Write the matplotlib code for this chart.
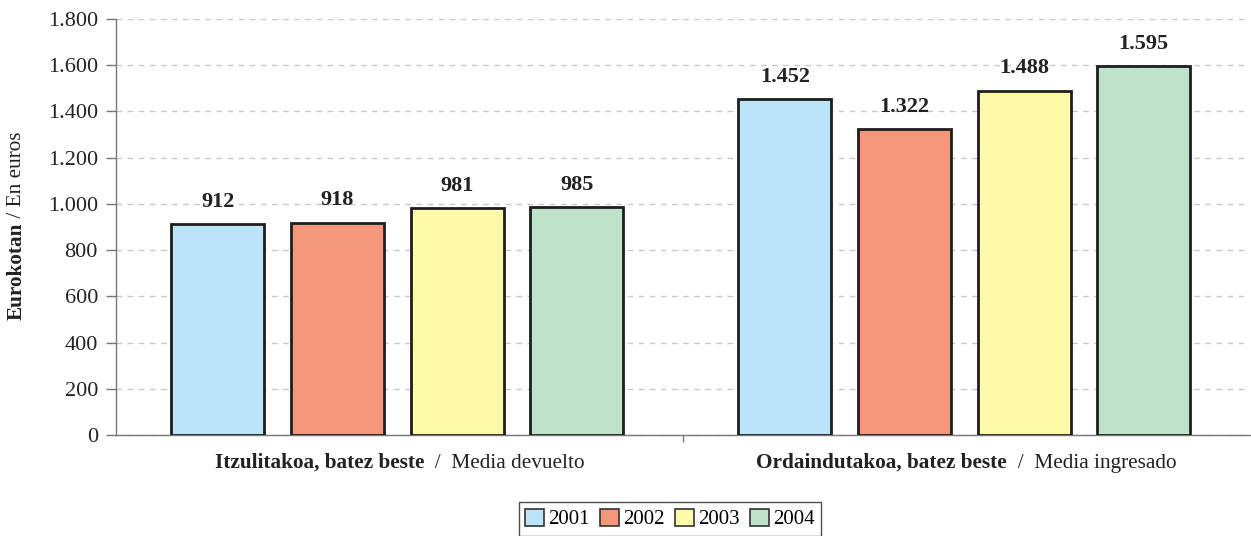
import matplotlib
matplotlib.use("Agg")
import matplotlib.pyplot as plt
from matplotlib.offsetbox import TextArea, HPacker, AnnotationBbox
from matplotlib.ticker import FuncFormatter
import numpy as np

plt.rcParams['font.family'] = ['Liberation Serif', 'DejaVu Serif']

years = ['2001', '2002', '2003', '2004']
cat_bold = ['Itzulitakoa, batez beste', 'Ordaindutakoa, batez beste']
cat_regular = ['Media devuelto', 'Media ingresado']
values = {
    '2001': [912, 1452],
    '2002': [918, 1322],
    '2003': [981, 1488],
    '2004': [985, 1595],
}
colors = ['#BAE4F8', '#F5977A', '#FFF9AA', '#BFE2CA']

fig = plt.figure(figsize=(12.51, 5.36), dpi=100)
ax = fig.add_axes([116/1251, 1-435/536, 1134/1251, 416/536])

pitch = 0.211
width = 0.164
offsets = np.array([-1.5, -0.5, 0.5, 1.5]) * pitch - 0.004
centers = np.arange(len(cat_bold)) + 0.5

def fmt(v):
    return f"{int(v):,}".replace(',', '.')

for k, y in enumerate(years):
    xs = centers + offsets[k]
    ax.bar(xs, values[y], width=width, color=colors[k], edgecolor='#1E1E1E',
           linewidth=2.0, zorder=3, label=y)
    for x, v in zip(xs, values[y]):
        ax.text(x, v + 55, fmt(v), ha='center', va='bottom', fontsize=16,
                fontweight='bold', color='#222222', zorder=4)

ax.set_xlim(0, 2)
ax.set_ylim(0, 1800)
ax.set_yticks(np.arange(0, 1801, 200))
ax.yaxis.set_major_formatter(FuncFormatter(lambda v, p: fmt(v)))
ax.tick_params(axis='y', labelsize=16, length=7, width=1, color='#777777',
               labelcolor='#222222', pad=6)
ax.set_xticks([1])
ax.set_xticklabels([''])
ax.tick_params(axis='x', length=5, width=1, color='#777777')
ax.grid(axis='y', color='#C8C8C8', linestyle=(0, (4, 4)), linewidth=1, zorder=0)
for s in ['top', 'right']:
    ax.spines[s].set_visible(False)
for s in ['left', 'bottom']:
    ax.spines[s].set_color('#777777')
    ax.spines[s].set_linewidth(1)

# category labels
for i in range(len(cat_bold)):
    t1 = TextArea(cat_bold[i], textprops=dict(fontsize=15.3, fontweight='bold', color='#222222'))
    t2 = TextArea('  /  ' + cat_regular[i], textprops=dict(fontsize=15.3, color='#222222'))
    box = HPacker(children=[t1, t2], align='baseline', pad=0, sep=0)
    ab = AnnotationBbox(box, (centers[i], 1 - (463 - 19) / 416), xycoords=ax.get_xaxis_transform(),
                        box_alignment=(0.5, 0.5), frameon=False, annotation_clip=False)
    ax.add_artist(ab)

# y label
fig.canvas.draw()
t_a = fig.text(17/1251, 1 - 320/536, 'Eurokotan', rotation=90, fontsize=15.3, fontweight='bold',
               ha='center', va='bottom', color='#222222')
fig.canvas.draw()
ax.annotate(' / En euros', xy=(0.5, 1), xycoords=t_a, rotation=90, fontsize=15.3,
            ha='center', va='bottom', color='#222222', annotation_clip=False)

leg = fig.legend(loc='center', bbox_to_anchor=(670/1251, 1 - 519/536), ncol=4,
                 fontsize=15, frameon=True, fancybox=False, edgecolor='#222222',
                 handlelength=0.9, handleheight=0.9, handletextpad=0.2,
                 columnspacing=0.5, borderpad=0.3, borderaxespad=0)
leg.get_frame().set_linewidth(1.0)
for h in leg.legend_handles:
    h.set_linewidth(1.2)
    h.set_edgecolor('#333333')

fig.savefig('out.png', dpi=100)
